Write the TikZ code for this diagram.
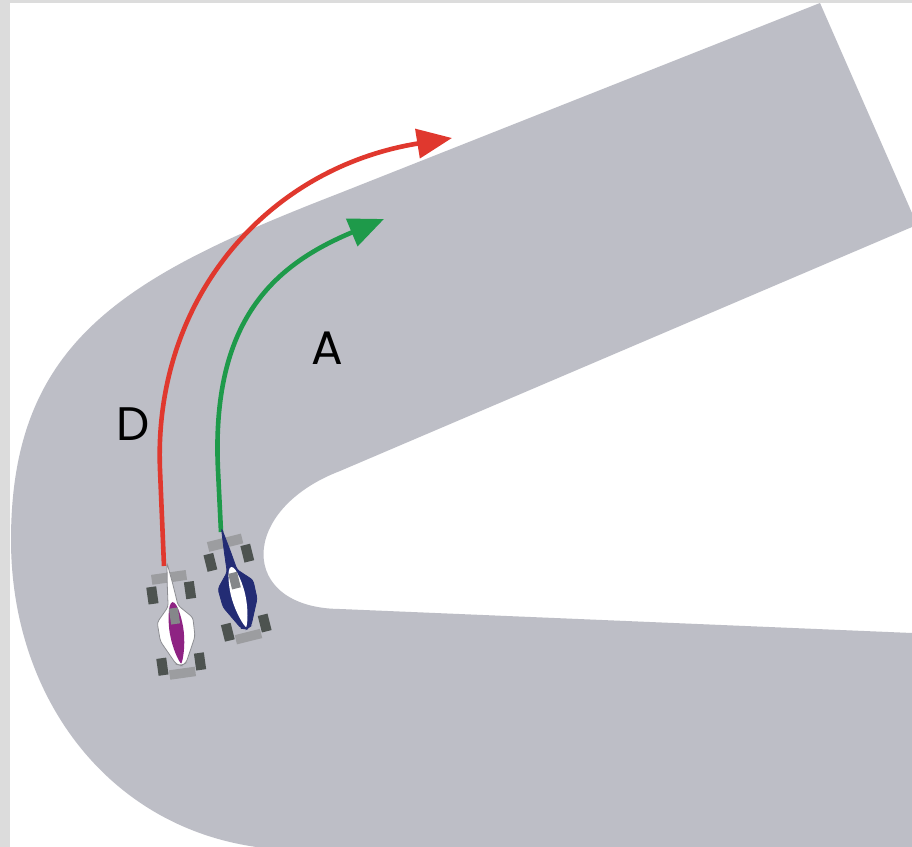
\documentclass[tikz,border=0pt]{standalone}
\usepackage{fontspec}
\setmainfont{Poppins}
\usepackage{tikz}
\usetikzlibrary{arrows.meta}
\definecolor{frame}{HTML}{DCDCDC}
\definecolor{track}{HTML}{BDBEC6}
\definecolor{redline}{HTML}{E0382E}
\definecolor{greenline}{HTML}{1E9A4A}
\definecolor{carnavy}{HTML}{232C74}
\definecolor{carpurple}{HTML}{8E2383}
\definecolor{carwhite}{HTML}{FFFFFF}
\definecolor{bodyedge}{HTML}{8C8D92}
\definecolor{wheelgrey}{HTML}{4D5350}
\definecolor{winggrey}{HTML}{9C9DA0}
\definecolor{cockpitgrey}{HTML}{85878A}
\tikzset{
  trackfill/.style={fill=track, draw=none},
  lineD/.style={-{Triangle[length=17.5pt,width=14.5pt]}, line width=2.3pt, draw=redline},
  lineA/.style={-{Triangle[length=17.5pt,width=14.5pt]}, line width=2.3pt, draw=greenline},
  lab/.style={text=black, font=\fontsize{23.5}{24}\selectfont, inner sep=0pt},
  wheel/.style={fill=wheelgrey},
  wing/.style={fill=winggrey},
  cockpit/.style={fill=cockpitgrey}
}

\begin{document}
\begin{tikzpicture}[x=0.5pt,y=-0.5pt]
  \fill[frame] (0,0) rectangle (912,847);
  \fill[white] (10,3) rectangle (912,847);
  \useasboundingbox (0,0) rectangle (912,847);

  \begin{scope}
    \clip (0,0) rectangle (912,847);
    \fill[trackfill] (820,3) -- (340,193) .. controls (126,276) and (11,340) .. (11,540)
      .. controls (11,710) and (125,850) .. (300,850) -- (912,875) -- (912,633) -- (340,609)
      .. controls (238,608) and (238,510) .. (340,471) -- (912,227) -- (912,213) -- cycle;
  \end{scope}

  \coordinate (noseD) at (164,566);
  \coordinate (bendD) at (160,470);
  \coordinate (tipD) at (452,138);
  \coordinate (noseA) at (221,532);
  \coordinate (bendA) at (218,470);
  \coordinate (tipA) at (384,219);

  \draw[lineD] (noseD) -- (bendD) .. controls (153,300) and (266,168) .. (tipD);
  \draw[lineA] (noseA) -- (bendA) .. controls (211,320) and (274,265) .. (tipA);

  \foreach \cx/\cy/\rot/\bodycol/\stripecol/\edgecol in
      {174.75/618/8/carwhite/carpurple/bodyedge, 235/582.5/14/carnavy/carwhite/carnavy} {
    \begin{scope}[shift={(\cx,\cy)}, rotate=\rot]
      \fill[wing] (-17.5,-46) rectangle (17.5,-36);
      \fill[wing] (-13,51) rectangle (13,60.5);
      \foreach \wx in {-24,14} {
        \fill[wheel] (\wx,-34) rectangle ++(10,17);
        \fill[wheel] (\wx,38) rectangle ++(10,17);
      }
      \filldraw[fill=\bodycol, draw=\edgecol, line width=0.4pt, rounded corners=1.5pt]
        (0,-56) -- (3,-32) -- (5,-12) -- (18,2) -- (17.5,21) -- (5,46) -- (0,48)
        -- (-5,46) -- (-17.5,21) -- (-18,2) -- (-5,-12) -- (-3,-32) -- cycle;
      \fill[\stripecol] (0,-16) .. controls (5,-16) and (7.5,5) .. (7,15)
        .. controls (6.5,30) and (2,44) .. (0,46) .. controls (-2,44) and (-6.5,30) .. (-7,15)
        .. controls (-7.5,5) and (-5,-16) .. (0,-16);
      \fill[cockpit] (-4.5,-10) rectangle (4.5,6);
    \end{scope}
  }

  \node[lab] (labD) at (133,424) {D};
  \node[lab] (labA) at (327,348) {A};
\end{tikzpicture}
\end{document}
